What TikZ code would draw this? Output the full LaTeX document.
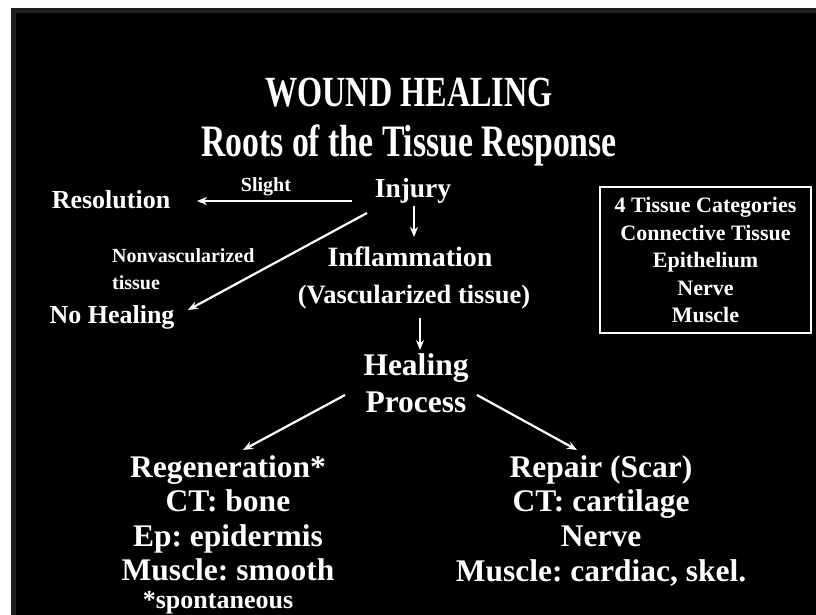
\documentclass[tikz,border=0pt]{standalone}
\usepackage{fontspec}
\setmainfont{Liberation Serif}
\newfontfamily\titlefont{Liberation Serif}[FakeStretch=0.75]
\usetikzlibrary{arrows.meta}
\frenchspacing
\begin{document}
\begin{tikzpicture}[x=1pt,y=-1pt,
  lbl/.style={text=white,inner sep=0pt,anchor=base},
  ttl/.style={lbl,font=\titlefont\bfseries\fontsize{43}{47}\selectfont},
  subttl/.style={lbl,font=\titlefont\bfseries\fontsize{45}{49}\selectfont},
  mid/.style={lbl,font=\bfseries\fontsize{27.5}{31}\selectfont},
  body/.style={lbl,font=\bfseries\fontsize{31.5}{35}\selectfont},
  note/.style={lbl,font=\bfseries\fontsize{20}{23}\selectfont},
  catbox/.style={draw=white,line width=1.3pt,text=white,align=center,
    font=\bfseries\fontsize{22}{27.5}\selectfont,
    minimum width=211pt,minimum height=146pt,inner sep=0pt},
  conn/.style={white,line width=2.2pt,-{Stealth[length=10pt,width=8pt]}}]
\useasboundingbox (0,0) rectangle (816,615);
\fill[white] (0,0) rectangle (816,615);
\fill[black] (11,8) rectangle (816,615);
\draw[black!88!white,line width=5pt] (13.5,10.5) rectangle (818.5,617.5);
% titles
\node[ttl] (title) at (409,107) {WOUND HEALING};
\node[subttl] (subtitle) at (409,156) {Roots of the Tissue Response};
% upper flow
\node[mid] (injury) at (413,197) {Injury};
\node[lbl,font=\bfseries\fontsize{26}{30}\selectfont] (resolution) at (111,208) {Resolution};
\node[note] (slight) at (266,191) {Slight};
\node[note,anchor=base west] (nonvasc) at (112,262) {Nonvascularized};
\node[note,anchor=base west] (tissue) at (112,289) {tissue};
\node[lbl,font=\bfseries\fontsize{26}{30}\selectfont] (nohealing) at (112,323) {No Healing};
\node[mid,font=\bfseries\fontsize{28}{32}\selectfont] (inflam) at (410,266) {Inflammation};
\node[mid,font=\bfseries\fontsize{26.5}{30}\selectfont] (vasc) at (414,303) {(Vascularized tissue)};
\node[body] (healing) at (416,375) {Healing};
\node[body] (process) at (416,412) {Process};
% category box
\node[catbox] (cats) at (705.5,260) {4 Tissue Categories\\Connective Tissue\\Epithelium\\Nerve\\Muscle};
% left column
\node[body] (regen) at (228,477) {Regeneration*};
\node[body] (ctbone) at (228,511) {CT: bone};
\node[body] (epi) at (228,546) {Ep: epidermis};
\node[body] (msmooth) at (228,580) {Muscle: smooth};
\node[lbl,font=\bfseries\fontsize{26}{30}\selectfont] (spont) at (218,608) {*spontaneous};
% right column
\node[body] (repair) at (601,477) {Repair (Scar)};
\node[body] (ctcart) at (601,511) {CT: cartilage};
\node[body] (nerve) at (601,546) {Nerve};
\node[body] (mcard) at (601,581) {Muscle: cardiac, skel.};
% connectors
\draw[conn] ([xshift=-61pt,yshift=-4pt]injury.base) -- ([xshift=86pt,yshift=7pt]resolution.base);
\draw[conn] ([xshift=-46pt,yshift=-16pt]injury.base) -- ([xshift=76pt,yshift=13pt]nohealing.base);
\draw[conn] ([xshift=1pt,yshift=-9pt]injury.base) -- ([xshift=4pt,yshift=29pt]inflam.base);
\draw[conn] ([xshift=6pt,yshift=-15pt]vasc.base) -- ([xshift=4pt,yshift=25pt]healing.base);
\draw[conn] ([xshift=-71pt,yshift=17pt]process.base) -- ([xshift=15pt,yshift=27pt]regen.base);
\draw[conn] ([xshift=61pt,yshift=17pt]process.base) -- ([xshift=-24pt,yshift=27pt]repair.base);
\end{tikzpicture}
\end{document}
